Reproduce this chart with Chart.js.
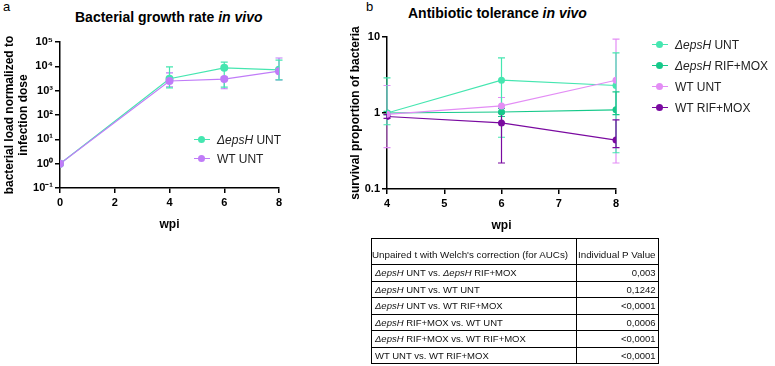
<!DOCTYPE html>
<html>
<head>
<meta charset="utf-8">
<script src="https://cdn.jsdelivr.net/npm/chart.js@4.4.0/dist/chart.umd.min.js"></script>
<style>
  body { margin: 0; width: 775px; height: 366px; background: #fff; font-family: "Liberation Sans", Arial, sans-serif; position: relative; overflow: hidden; }
  .abs { position: absolute; }
  .title { font-weight: bold; font-size: 14px; color: #000; white-space: nowrap; }
  .letter { font-size: 13px; color: #000; }
  .legend { font-size: 12px; color: #222; white-space: nowrap; }
  .legend .row { position: absolute; left: 0; height: 14px; line-height: 14px; }
  .legend .mk { position: absolute; left: 0; top: 6px; width: 16px; height: 1px; }
  .legend .dot { position: absolute; left: 4px; top: -3px; width: 7px; height: 7px; border-radius: 50%; }
  .legend .txt { position: absolute; left: 23px; top: 0; }
  table { border-collapse: collapse; font-size: 9.5px; color: #111; table-layout: fixed; }
  td { border: 1px solid #000; padding: 0 2px 0 3px; height: 16.5px; line-height: 11px; white-space: nowrap; overflow: hidden; box-sizing: border-box; }
  td.r { text-align: right; }
  tr.hd td { height: 26px; vertical-align: bottom; padding-bottom: 4px; font-size: 9.8px; }
</style>
</head>
<body>
<div class="abs letter" style="left:3px; top:-1px;">a</div>
<div class="abs letter" style="left:366px; top:-1px;">b</div>
<div class="abs title" style="left:75px; top:9px;">Bacterial growth rate <i>in vivo</i></div>
<div class="abs title" style="left:408px; top:5px;">Antibiotic tolerance <i>in vivo</i></div>

<div class="abs" style="left:0; top:0; width:340px; height:240px;"><canvas id="chartA"></canvas></div>
<div class="abs" style="left:340px; top:0; width:435px; height:240px;"><canvas id="chartB"></canvas></div>

<div class="abs legend" id="legendA" style="left:194px; top:133px;"></div>
<div class="abs legend" id="legendB" style="left:652px; top:38px;"></div>

<div class="abs" style="left:371px; top:238px;">
  <table>
    <colgroup><col style="width:205px"><col style="width:80px"></colgroup>
    <tr class="hd"><td style="padding-left:0;">Unpaired t with Welch's correction (for AUCs)</td><td style="padding-left:1px;">Individual P Value</td></tr>
    <tr><td><i>ΔepsH</i> UNT vs. <i>ΔepsH</i> RIF+MOX</td><td class="r">0,003</td></tr>
    <tr><td><i>ΔepsH</i> UNT vs. WT UNT</td><td class="r">0,1242</td></tr>
    <tr><td><i>ΔepsH</i> UNT vs. WT RIF+MOX</td><td class="r">&lt;0,0001</td></tr>
    <tr><td><i>ΔepsH</i> RIF+MOX vs. WT UNT</td><td class="r">0,0006</td></tr>
    <tr><td><i>ΔepsH</i> RIF+MOX vs. WT RIF+MOX</td><td class="r">&lt;0,0001</td></tr>
    <tr><td>WT UNT vs. WT RIF+MOX</td><td class="r">&lt;0,0001</td></tr>
  </table>
</div>

<script>
// panel a: bacterial load normalized to infection dose
const wpiA = [0, 4, 6, 8];
const epsUntA = [1, 3100, 8700, 7200];
const epsUntLoA = [1, 1300, 1400, 2800];
const epsUntHiA = [1, 9500, 15000, 18000];
const wtUntA = [1, 2500, 3000, 6300];
const wtUntLoA = [1, 1450, 1200, 2800];
const wtUntHiA = [1, 5400, 3600, 22000];
const xTicksA = [0, 2, 4, 6, 8];
const yTicksA = [0.1, 1, 10, 100, 1000, 10000, 100000];
const yTickLabelsA = ['10\u207B\u00B9', '10\u2070', '10\u00B9', '10\u00B2', '10\u00B3', '10\u2074', '10\u2075'];

// panel b: survival proportion of bacteria
const wpiB = [4, 6, 8];
const epsUntB = [1, 2.7, 2.3];
const epsUntLoB = [0.7, 0.48, 0.3];
const epsUntHiB = [2.9, 5.3, 6.2];
const epsRifB = [1, 1.03, 1.1];
const epsRifLoB = [0.95, 0.9, 0.95];
const epsRifHiB = [1.05, 1.15, 1.9];
const wtUntB = [0.96, 1.24, 2.7];
const wtUntLoB = [0.35, 1.0, 0.22];
const wtUntHiB = [2.3, 1.6, 9.4];
const wtRifB = [0.9, 0.74, 0.44];
const wtRifLoB = [0.85, 0.22, 0.35];
const wtRifHiB = [0.95, 1.0, 0.81];
const xTicksB = [4, 5, 6, 7, 8];
const yTicksB = [0.1, 1, 10];
const yTickLabelsB = ['0.1', '1', '10'];

const C_EPS_UNT = '#45e6b0';
const C_EPS_RIF = '#16c98a';
const C_WT_UNT_A = '#c07cf8';
const C_WT_UNT_B = '#e38df5';
const C_WT_RIF = '#7a0aa0';

const FONT = "'Liberation Sans', Arial, sans-serif";

const pts = (xs, ys) => xs.map((x, i) => ({ x: x, y: ys[i] }));

const makeSet = (label, xs, ys, lo, hi, color, r) => ({
  label: label,
  data: pts(xs, ys),
  errLo: lo,
  errHi: hi,
  borderColor: color,
  backgroundColor: color,
  borderWidth: 1.2,
  pointRadius: r,
  pointBorderWidth: 0,
  tension: 0
});

// draws the error bars from errLo / errHi through the chart scales
const errorBars = {
  id: 'errorBars',
  beforeDatasetsDraw(chart) {
    const ctx = chart.ctx;
    const xs = chart.scales.x, ys = chart.scales.y;
    chart.data.datasets.forEach((ds) => {
      ctx.save();
      ctx.strokeStyle = ds.borderColor;
      ctx.lineWidth = 1.2;
      ds.data.forEach((p, i) => {
        const px = xs.getPixelForValue(p.x);
        const y1 = ys.getPixelForValue(ds.errLo[i]);
        const y2 = ys.getPixelForValue(ds.errHi[i]);
        if (Math.abs(y1 - y2) < 1) return;
        ctx.beginPath();
        ctx.moveTo(px, y1); ctx.lineTo(px, y2);
        ctx.moveTo(px - 3.5, y1); ctx.lineTo(px + 3.5, y1);
        ctx.moveTo(px - 3.5, y2); ctx.lineTo(px + 3.5, y2);
        ctx.stroke();
      });
      ctx.restore();
    });
  }
};

const axisGrid = { drawOnChartArea: false, drawTicks: true, tickLength: 5, color: '#000', lineWidth: 1.5 };
const axisBorder = { display: true, color: '#000', width: 1.5 };
const tickFont = { family: FONT, size: 11, weight: 'bold' };
const titleFont = { family: FONT, size: 12, weight: 'bold' };

const makeOptions = (o) => ({
  responsive: true,
  maintainAspectRatio: false,
  animation: false,
  layout: { padding: o.padding },
  plugins: { legend: { display: false }, tooltip: { enabled: false } },
  scales: {
    x: {
      type: 'linear',
      min: o.xMin, max: o.xMax,
      grid: axisGrid, border: axisBorder,
      afterBuildTicks: (s) => { s.ticks = o.xTicks.map((v) => ({ value: v })); },
      afterFit: (s) => { s.height = o.xHeight; },
      ticks: { color: '#000', font: tickFont, padding: 3, maxRotation: 0, callback: (v) => String(v) },
      title: { display: true, text: 'wpi', color: '#000', font: titleFont, padding: { top: 4, bottom: 4 } }
    },
    y: {
      type: 'logarithmic',
      min: o.yMin, max: o.yMax,
      grid: axisGrid, border: axisBorder,
      afterBuildTicks: (s) => { s.ticks = o.yTicks.map((v) => ({ value: v })); },
      afterFit: (s) => { s.width = o.yWidth; },
      ticks: {
        color: '#000', font: tickFont, padding: 2,
        callback: (v) => { const i = o.yTicks.indexOf(v); return i >= 0 ? o.yLabels[i] : ''; }
      },
      title: { display: true, text: o.yTitle, color: '#000', font: titleFont, padding: { top: 0, bottom: 2 } }
    }
  }
});

new Chart(document.getElementById('chartA'), {
  type: 'line',
  data: {
    datasets: [
      makeSet('WT UNT', wpiA, wtUntA, wtUntLoA, wtUntHiA, C_WT_UNT_A, 4),
      makeSet('ΔepsH UNT', wpiA, epsUntA, epsUntLoA, epsUntHiA, C_EPS_UNT, 4)
    ]
  },
  options: makeOptions({
    padding: { left: 2, right: 61, top: 42, bottom: 4 },
    xMin: 0, xMax: 8, xTicks: xTicksA, xHeight: 48,
    yMin: 0.1, yMax: 100000, yTicks: yTicksA, yLabels: yTickLabelsA, yWidth: 58,
    yTitle: ['bacterial load normalized to', 'infection dose']
  }),
  plugins: [errorBars]
});

new Chart(document.getElementById('chartB'), {
  type: 'line',
  data: {
    datasets: [
      makeSet('WT UNT', wpiB, wtUntB, wtUntLoB, wtUntHiB, C_WT_UNT_B, 3.5),
      makeSet('ΔepsH UNT', wpiB, epsUntB, epsUntLoB, epsUntHiB, C_EPS_UNT, 3.5),
      makeSet('ΔepsH RIF+MOX', wpiB, epsRifB, epsRifLoB, epsRifHiB, C_EPS_RIF, 3.5),
      makeSet('WT RIF+MOX', wpiB, wtRifB, wtRifLoB, wtRifHiB, C_WT_RIF, 3.5)
    ]
  },
  options: makeOptions({
    padding: { left: 8, right: 159, top: 37, bottom: 3 },
    xMin: 4, xMax: 8, xTicks: xTicksB, xHeight: 48,
    yMin: 0.1, yMax: 10, yTicks: yTicksB, yLabels: yTickLabelsB, yWidth: 39,
    yTitle: 'survival proportion of bacteria'
  }),
  plugins: [errorBars]
});

// html legends
const legendA = [['<i>ΔepsH</i> UNT', C_EPS_UNT], ['WT UNT', C_WT_UNT_A]];
const legendB = [['<i>ΔepsH</i> UNT', C_EPS_UNT], ['<i>ΔepsH</i> RIF+MOX', C_EPS_RIF], ['WT UNT', C_WT_UNT_B], ['WT RIF+MOX', C_WT_RIF]];
const buildLegend = (el, items, step) => {
  el.innerHTML = items.map((it, i) =>
    '<div class="row" style="top:' + (i * step) + 'px"><div class="mk" style="background:' + it[1] +
    '"><div class="dot" style="background:' + it[1] + '"></div></div><div class="txt">' + it[0] + '</div></div>'
  ).join('');
};
buildLegend(document.getElementById('legendA'), legendA, 19);
buildLegend(document.getElementById('legendB'), legendB, 21);
</script>
</body>
</html>
